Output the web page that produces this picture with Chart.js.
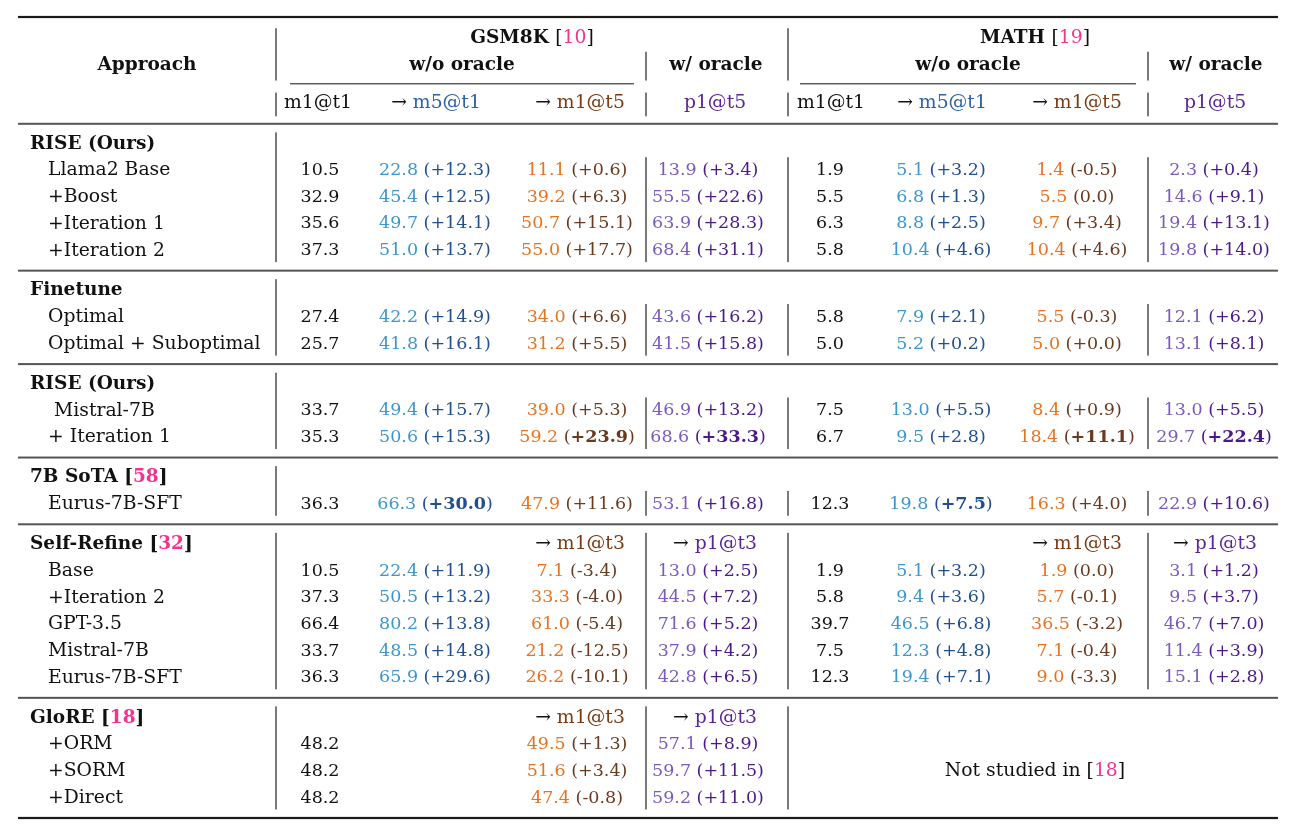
<!DOCTYPE html>
<html>
<head>
<meta charset="utf-8">
<script src="https://cdn.jsdelivr.net/npm/chart.js@4.4.1/dist/chart.umd.min.js"></script>
<style>
  html, body { margin: 0; background: #fff; }
  canvas { display: block; }
</style>
</head>
<body>
<canvas id="tbl" width="1296" height="834"></canvas>
<script>
// ── data ─────────────────────────────────────────────────────────────────────
const sections     = ['RISE (Ours)', 'Finetune', 'RISE (Ours)', '7B SoTA [58]', 'Self-Refine [32]', 'GloRE [18]'];
const sectionSizes = [4, 2, 2, 1, 5, 3];
const approaches   = ['Llama2 Base', '+Boost', '+Iteration 1', '+Iteration 2',
                      'Optimal', 'Optimal + Suboptimal',
                      'Mistral-7B', '+ Iteration 1',
                      'Eurus-7B-SFT',
                      'Base', '+Iteration 2', 'GPT-3.5', 'Mistral-7B', 'Eurus-7B-SFT',
                      '+ORM', '+SORM', '+Direct'];

const gsmM1t1      = [10.5, 32.9, 35.6, 37.3, 27.4, 25.7, 33.7, 35.3, 36.3, 10.5, 37.3, 66.4, 33.7, 36.3, 48.2, 48.2, 48.2];
const gsmM5t1      = [22.8, 45.4, 49.7, 51.0, 42.2, 41.8, 49.4, 50.6, 66.3, 22.4, 50.5, 80.2, 48.5, 65.9, null, null, null];
const gsmM5t1Gain  = ['+12.3', '+12.5', '+14.1', '+13.7', '+14.9', '+16.1', '+15.7', '+15.3', '+30.0', '+11.9', '+13.2', '+13.8', '+14.8', '+29.6', null, null, null];
const gsmM1t5      = [11.1, 39.2, 50.7, 55.0, 34.0, 31.2, 39.0, 59.2, 47.9, 7.1, 33.3, 61.0, 21.2, 26.2, 49.5, 51.6, 47.4];
const gsmM1t5Gain  = ['+0.6', '+6.3', '+15.1', '+17.7', '+6.6', '+5.5', '+5.3', '+23.9', '+11.6', '-3.4', '-4.0', '-5.4', '-12.5', '-10.1', '+1.3', '+3.4', '-0.8'];
const gsmP1t5      = [13.9, 55.5, 63.9, 68.4, 43.6, 41.5, 46.9, 68.6, 53.1, 13.0, 44.5, 71.6, 37.9, 42.8, 57.1, 59.7, 59.2];
const gsmP1t5Gain  = ['+3.4', '+22.6', '+28.3', '+31.1', '+16.2', '+15.8', '+13.2', '+33.3', '+16.8', '+2.5', '+7.2', '+5.2', '+4.2', '+6.5', '+8.9', '+11.5', '+11.0'];

const mathM1t1     = [1.9, 5.5, 6.3, 5.8, 5.8, 5.0, 7.5, 6.7, 12.3, 1.9, 5.8, 39.7, 7.5, 12.3, null, null, null];
const mathM5t1     = [5.1, 6.8, 8.8, 10.4, 7.9, 5.2, 13.0, 9.5, 19.8, 5.1, 9.4, 46.5, 12.3, 19.4, null, null, null];
const mathM5t1Gain = ['+3.2', '+1.3', '+2.5', '+4.6', '+2.1', '+0.2', '+5.5', '+2.8', '+7.5', '+3.2', '+3.6', '+6.8', '+4.8', '+7.1', null, null, null];
const mathM1t5     = [1.4, 5.5, 9.7, 10.4, 5.5, 5.0, 8.4, 18.4, 16.3, 1.9, 5.7, 36.5, 7.1, 9.0, null, null, null];
const mathM1t5Gain = ['-0.5', '0.0', '+3.4', '+4.6', '-0.3', '+0.0', '+0.9', '+11.1', '+4.0', '0.0', '-0.1', '-3.2', '-0.4', '-3.3', null, null, null];
const mathP1t5     = [2.3, 14.6, 19.4, 19.8, 12.1, 13.1, 13.0, 29.7, 22.9, 3.1, 9.5, 46.7, 11.4, 15.1, null, null, null];
const mathP1t5Gain = ['+0.4', '+9.1', '+13.1', '+14.0', '+6.2', '+8.1', '+5.5', '+22.4', '+10.6', '+1.2', '+3.7', '+7.0', '+3.9', '+2.8', null, null, null];

const boldGains = ['gsmM5t1:8', 'gsmM1t5:7', 'gsmP1t5:7', 'mathM5t1:8', 'mathM1t5:7', 'mathP1t5:7'];

const colHeads   = { gsmM1t1: 'm1@t1', gsmM5t1: 'm5@t1', gsmM1t5: 'm1@t5', gsmP1t5: 'p1@t5',
                     mathM1t1: 'm1@t1', mathM5t1: 'm5@t1', mathM1t5: 'm1@t5', mathP1t5: 'p1@t5' };
const t3Heads    = { gsmM1t5: 'm1@t3', gsmP1t5: 'p1@t3', mathM1t5: 'm1@t3', mathP1t5: 'p1@t3' };
const sectionHeadCells = [[], [], [], [], ['gsmM1t5', 'gsmP1t5', 'mathM1t5', 'mathP1t5'], ['gsmM1t5', 'gsmP1t5']];

// ── layout (table units: px from the left edge of the table) ────────────────
const TABLE_W = 1260;
const colX = { gsmM1t1: 302, gsmM5t1: 417, gsmM1t5: 559, gsmP1t5: 690,
               mathM1t1: 812, mathM5t1: 923, mathM1t5: 1059, mathP1t5: 1196 };
const colHeadX = { gsmM1t1: 300, gsmM5t1: 418, gsmM1t5: 562, gsmP1t5: 697,
                   mathM1t1: 813, mathM5t1: 924, mathM1t5: 1059, mathP1t5: 1197 };
const colKind = { gsmM1t1: 'plain', gsmM5t1: 'blue', gsmM1t5: 'orange', gsmP1t5: 'purple',
                  mathM1t1: 'plain', mathM5t1: 'blue', mathM1t5: 'orange', mathP1t5: 'purple' };
const vlines = [258, 628, 770, 1130];

const palette = {
  plain:  { val: '#111111', gain: '#111111', head: '#111111' },
  blue:   { val: '#3a97cf', gain: '#1f4f8f', head: '#2d62a6' },
  orange: { val: '#e8731f', gain: '#6b3a1e', head: '#7b3a12' },
  purple: { val: '#7a5bbd', gain: '#4a1a8a', head: '#5b249b' },
};
const INK = '#111111', PINK = '#f5338f';
const F_TXT  = '18.8px "DejaVu Serif"';
const F_BOLD = 'bold 18.5px "DejaVu Serif"';
const F_NUM  = '17.5px "DejaVu Serif"';
const F_NUMB = 'bold 17.5px "DejaVu Serif"';

// row positions in line units (0 = top rule)
const rowY = [], sectionY = [], ruleY = [0, 4];
let cursor = 4;
sectionSizes.forEach(n => {
  cursor += 0.75; sectionY.push(cursor);
  for (let i = 0; i < n; i++) { cursor += 1; rowY.push(cursor); }
  cursor += 0.75; ruleY.push(cursor);
});

const columns = {
  gsmM1t1: [gsmM1t1, null], gsmM5t1: [gsmM5t1, gsmM5t1Gain], gsmM1t5: [gsmM1t5, gsmM1t5Gain], gsmP1t5: [gsmP1t5, gsmP1t5Gain],
  mathM1t1: [mathM1t1, null], mathM5t1: [mathM5t1, mathM5t1Gain], mathM1t5: [mathM1t5, mathM1t5Gain], mathP1t5: [mathP1t5, mathP1t5Gain],
};

const datasets = Object.entries(columns).map(([key, [vals, gains]]) => ({
  label: key,
  pointRadius: 0,
  data: vals.map((v, i) => v == null ? null : { x: colX[key], y: rowY[i], v, g: gains ? gains[i] : null, row: i })
            .filter(p => p),
}));

// ── drawing helpers ──────────────────────────────────────────────────────────
function rich(ctx, parts, x, y, align) {
  let w = 0;
  parts.forEach(p => { ctx.font = p[1]; p.w = ctx.measureText(p[0]).width; w += p.w; });
  let cx = align === 'center' ? x - w / 2 : align === 'right' ? x - w : x;
  ctx.textBaseline = 'middle';
  ctx.textAlign = 'left';
  parts.forEach(p => { ctx.font = p[1]; ctx.fillStyle = p[2]; ctx.fillText(p[0], cx, y); cx += p.w; });
}

const tablePlugin = {
  id: 'tableText',
  afterDatasetsDraw(chart) {
    const { ctx, scales: { x, y } } = chart;
    const px = v => x.getPixelForValue(v), py = v => y.getPixelForValue(v);
    const hline = (yu, x0, x1, w, c) => { ctx.fillStyle = c; ctx.fillRect(px(x0), py(yu) - w / 2, px(x1) - px(x0), w); };
    const vline = (xu, y0, y1) => { ctx.fillStyle = '#222'; ctx.fillRect(Math.round(px(xu)) - 0.6, py(y0), 1.2, py(y1) - py(y0)); };
    ctx.save();

    // horizontal rules
    ruleY.forEach((r, i) => {
      const last = i === ruleY.length - 1;
      if (i === 0 || last) hline(r, 0, TABLE_W, 2.2, '#1a1a1a');
      else hline(r, 0, TABLE_W, 2, '#555');
    });
    hline(2.5, 272, 616, 1.4, '#555');
    hline(2.5, 782, 1118, 1.4, '#555');

    // header vertical lines
    [[258, 0.42], [628, 1.3], [770, 0.42], [1130, 1.3]].forEach(([xv, top]) => {
      vline(xv, top, 2.38);
      vline(xv, 2.83, 3.72);
    });

    // body vertical lines
    sectionSizes.forEach((n, s) => {
      const top = ruleY[s + 1] + 0.32, bot = ruleY[s + 2] - 0.32;
      vline(vlines[0], top, bot);
      const dataTop = sectionHeadCells[s].length ? top : sectionY[s] + 0.5;
      vlines.slice(1).forEach(xv => {
        if (s === 5 && xv === 1130) return;
        vline(xv, dataTop, bot);
      });
    });

    // header texts
    rich(ctx, [['GSM8K ', F_BOLD, INK], ['[', F_TXT, INK], ['10', F_TXT, PINK], [']', F_TXT, INK]], px(514), py(0.8), 'center');
    rich(ctx, [['MATH ', F_BOLD, INK], ['[', F_TXT, INK], ['19', F_TXT, PINK], [']', F_TXT, INK]], px(1017), py(0.8), 'center');
    rich(ctx, [['Approach', F_BOLD, INK]], px(129), py(1.8), 'center');
    rich(ctx, [['w/o oracle', F_BOLD, INK]], px(444), py(1.8), 'center');
    rich(ctx, [['w/ oracle', F_BOLD, INK]], px(698), py(1.8), 'center');
    rich(ctx, [['w/o oracle', F_BOLD, INK]], px(950), py(1.8), 'center');
    rich(ctx, [['w/ oracle', F_BOLD, INK]], px(1198), py(1.8), 'center');
    Object.keys(colHeads).forEach(k => {
      const kind = colKind[k], parts = [];
      if (kind === 'blue' || kind === 'orange') parts.push(['\u2192 ', F_TXT, INK]);
      parts.push([colHeads[k], F_TXT, palette[kind].head]);
      rich(ctx, parts, px(colHeadX[k]), py(3.22), 'center');
    });

    // section labels and approach names
    sections.forEach((name, s) => {
      const m = name.match(/^(.*)\[(\d+)\]$/);
      const parts = m ? [[m[1] + '[', F_BOLD, INK], [m[2], F_BOLD, PINK], [']', F_BOLD, INK]] : [[name, F_BOLD, INK]];
      rich(ctx, parts, px(12), py(sectionY[s]), 'left');
      sectionHeadCells[s].forEach(k => {
        rich(ctx, [['\u2192 ', F_TXT, INK], [t3Heads[k], F_TXT, palette[colKind[k]].head]], px(colHeadX[k]), py(sectionY[s]), 'center');
      });
    });
    approaches.forEach((a, i) => {
      const indent = i === 6 ? 36 : 30;
      rich(ctx, [[a, F_TXT, INK]], px(indent), py(rowY[i]), 'left');
    });
    rich(ctx, [['Not studied in [', F_TXT, INK], ['18', F_TXT, PINK], [']', F_TXT, INK]], px(1017), py(rowY[15]), 'center');

    // data cells, positioned by the scatter elements
    chart.data.datasets.forEach((ds, di) => {
      const meta = chart.getDatasetMeta(di);
      const pal = palette[colKind[ds.label]];
      meta.data.forEach((el, j) => {
        const p = ds.data[j];
        const parts = [[p.v.toFixed(1), F_NUM, pal.val]];
        if (p.g) {
          const bold = boldGains.includes(ds.label + ':' + p.row);
          parts.push([' (', F_NUM, pal.gain], [p.g, bold ? F_NUMB : F_NUM, pal.gain], [')', F_NUM, pal.gain]);
        }
        rich(ctx, parts, el.x, el.y, 'center');
      });
    });
    ctx.restore();
  }
};

new Chart(document.getElementById('tbl'), {
  type: 'scatter',
  data: { datasets },
  options: {
    responsive: false,
    animation: false,
    events: [],
    layout: { padding: { left: 18, right: 18, top: 17, bottom: 16 } },
    plugins: { legend: { display: false }, tooltip: { enabled: false } },
    scales: {
      x: { type: 'linear', min: 0, max: TABLE_W, display: false },
      y: { type: 'linear', min: 0, max: cursor, reverse: true, display: false },
    },
  },
  plugins: [tablePlugin],
});
</script>
</body>
</html>
